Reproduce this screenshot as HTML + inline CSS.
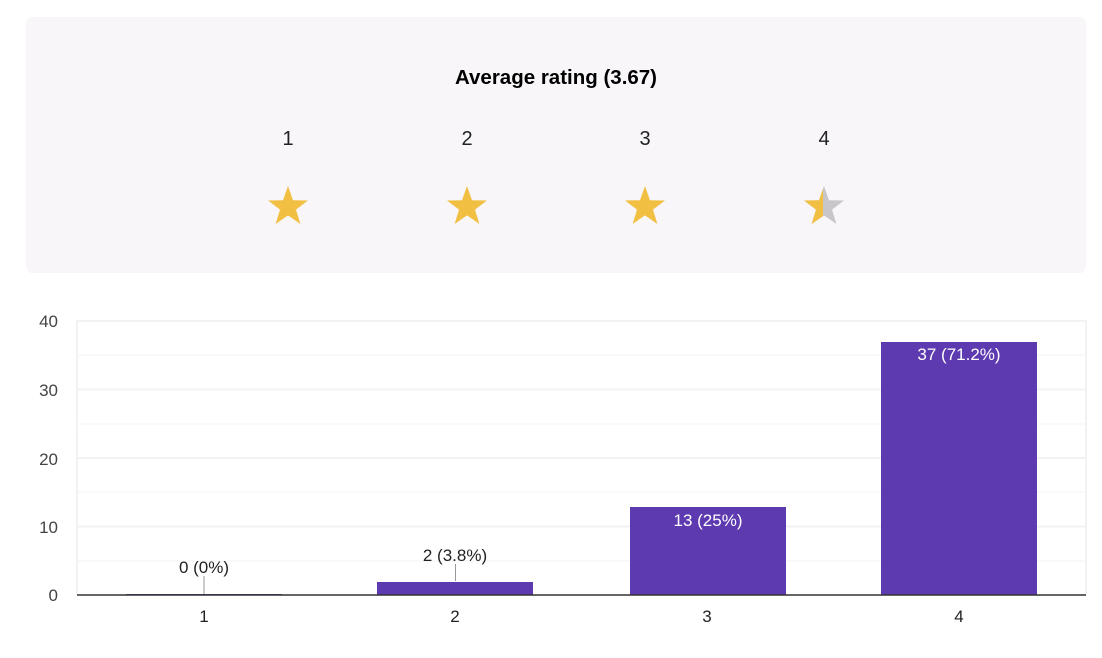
<!DOCTYPE html>
<html><head><style>
body{margin:0;width:1102px;height:658px;background:#fff;font-family:"Liberation Sans",Arial,sans-serif;overflow:hidden;position:relative}
.card{position:absolute;left:26px;top:17px;width:1060px;height:256px;background:#f8f6f9;border-radius:6px}
.t{position:absolute;font-size:20px;color:#202124;transform:translateX(-50%);white-space:nowrap}
</style></head><body>
<div class="card"></div>
<div class="t" style="left:556px;top:66px;font-weight:bold;font-size:20.5px;color:#000">Average rating (3.67)</div>
<div class="t" style="left:288px;top:128px">1</div>
<div class="t" style="left:467px;top:128px">2</div>
<div class="t" style="left:645px;top:128px">3</div>
<div class="t" style="left:824px;top:128px">4</div>
<svg width="1102" height="658" style="position:absolute;left:0;top:0">
<defs>
<path id="s" d="M0,-21 L5,-6.8 L20,-6.5 L8,2.6 L12.4,17 L0,8.4 L-12.4,17 L-8,2.6 L-20,-6.5 L-5,-6.8Z"/>
<clipPath id="h"><rect x="-21" y="-21" width="20" height="42"/></clipPath>
</defs>
<use href="#s" x="288" y="207" fill="#f1bf42"/>
<use href="#s" x="467" y="207" fill="#f1bf42"/>
<use href="#s" x="645" y="207" fill="#f1bf42"/>
<g transform="translate(824,207)"><use href="#s" fill="#c8c6c9"/><use href="#s" fill="#f1bf42" clip-path="url(#h)"/></g>
<g stroke="#f3f1f4" stroke-width="1">
<line x1="77" x2="1086" y1="321" y2="321" stroke-width="2"/>
<line x1="77" x2="1086" y1="355" y2="355"/>
<line x1="77" x2="1086" y1="389.5" y2="389.5" stroke-width="2"/>
<line x1="77" x2="1086" y1="424" y2="424"/>
<line x1="77" x2="1086" y1="458" y2="458" stroke-width="2"/>
<line x1="77" x2="1086" y1="492" y2="492"/>
<line x1="77" x2="1086" y1="526.5" y2="526.5" stroke-width="2"/>
<line x1="77" x2="1086" y1="561" y2="561"/>
<line x1="77" x2="77" y1="320" y2="595" stroke-width="2"/>
<line x1="1086" x2="1086" y1="320" y2="595" stroke-width="2"/>
</g>
<g fill="#5e3ab0">
<rect x="126" y="594" width="156" height="1"/>
<rect x="377" y="582" width="156" height="13"/>
<rect x="630" y="507" width="156" height="88"/>
<rect x="881" y="342" width="156" height="253"/>
</g>
<line x1="77" x2="1086" y1="595" y2="595" stroke="#333" stroke-width="1.5"/>
<g stroke="#999" stroke-width="1"><line x1="204" x2="204" y1="576" y2="594"/><line x1="455.5" x2="455.5" y1="564" y2="581"/></g>
<g font-size="17" fill="#444" text-anchor="end">
<text x="58" y="327">40</text><text x="58" y="396">30</text><text x="58" y="465">20</text><text x="58" y="533">10</text><text x="58" y="601">0</text>
</g>
<g font-size="17" fill="#222" text-anchor="middle">
<text x="204" y="622">1</text><text x="455" y="622">2</text><text x="707" y="622">3</text><text x="959" y="622">4</text>
<text x="204" y="573">0 (0%)</text><text x="455" y="561">2 (3.8%)</text>
<text x="708" y="526" fill="#fff">13 (25%)</text><text x="959" y="360" fill="#fff">37 (71.2%)</text>
</g>
</svg>
</body></html>
